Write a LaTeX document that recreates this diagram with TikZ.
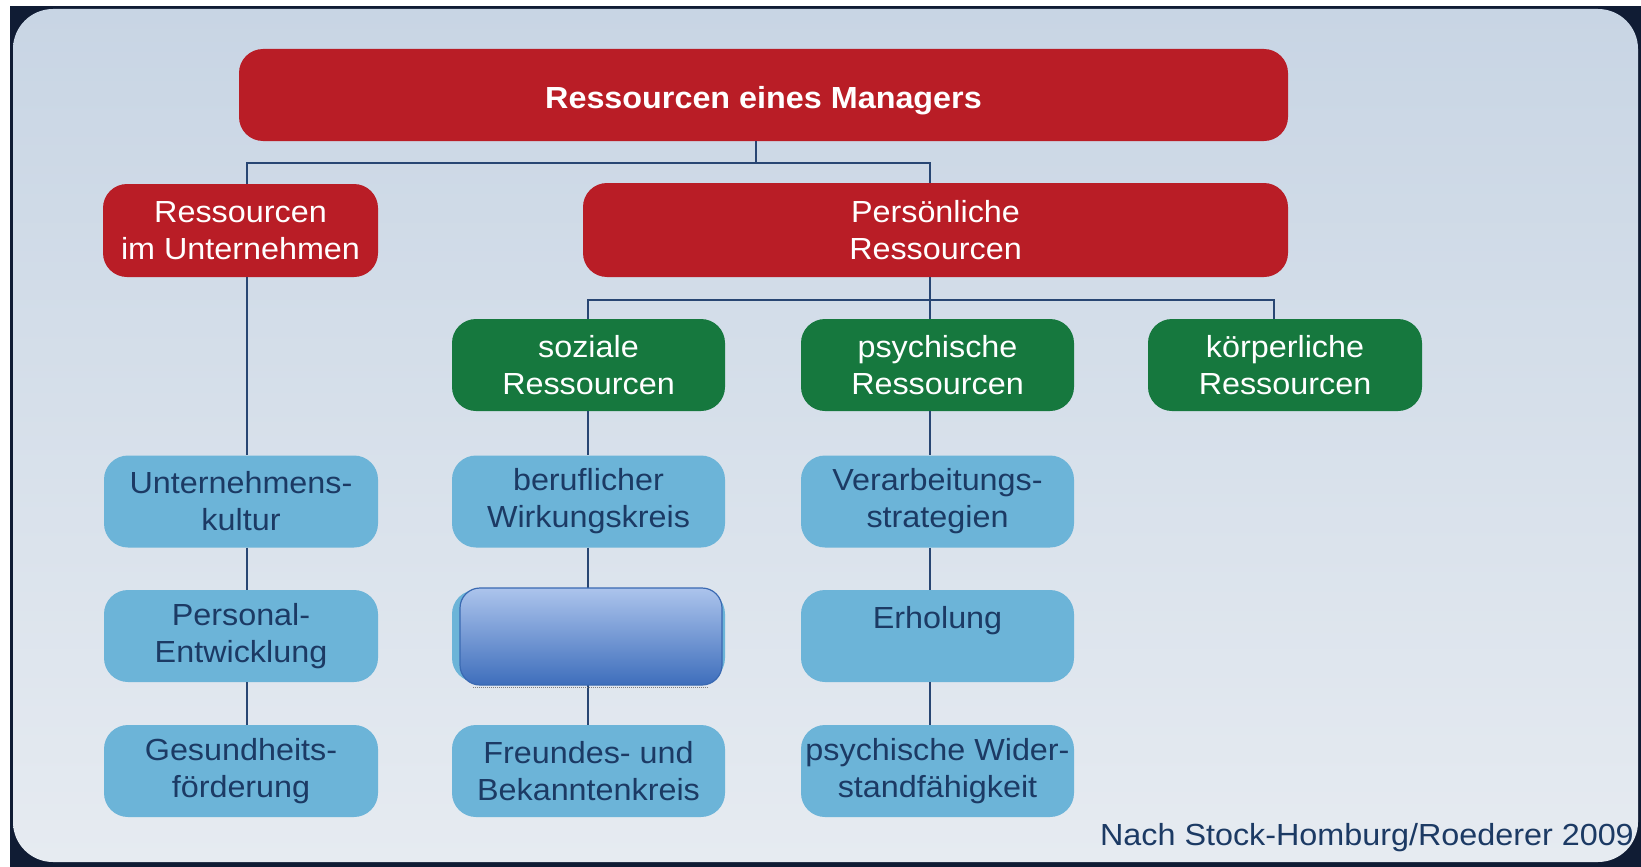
\documentclass[tikz,border=0pt]{standalone}
\usepackage{fontspec}
\setmainfont{Liberation Sans}[FakeStretch=1.06]
\usetikzlibrary{calc}

\definecolor{redbox}{RGB}{185,29,38}
\definecolor{greenbox}{RGB}{22,120,62}
\definecolor{lightbox}{RGB}{108,180,216}
\definecolor{navytext}{RGB}{28,58,100}
\definecolor{linecol}{RGB}{40,70,115}
\definecolor{bgtop}{RGB}{200,213,228}
\definecolor{bgbot}{RGB}{230,235,241}
\definecolor{framecol}{RGB}{16,28,52}
\definecolor{ovltop}{RGB}{172,196,236}
\definecolor{ovlbot}{RGB}{62,110,188}
\definecolor{ovlline}{RGB}{58,105,178}

\begin{document}
\begin{tikzpicture}[x=1pt,y=-1pt,
  box/.style={rounded corners=24pt, minimum height=92pt, align=center, inner sep=0pt,
              font=\fontsize{30.5}{37}\selectfont},
  redn/.style={box, fill=redbox, text=white},
  greenn/.style={box, fill=greenbox, text=white, minimum width=273pt},
  bluen/.style={box, fill=lightbox, text=navytext, minimum width=274pt},
  conn/.style={draw=linecol, line width=2.5pt}]

\useasboundingbox (0,0) rectangle (1641,867);
% frame and background
\fill[white] (0,0) rectangle (1641,867);
\fill[framecol] (10,6) rectangle (1641,867);
\shade[top color=bgtop, bottom color=bgbot, rounded corners=40pt] (13,9) rectangle (1638,862);

% red level
\node[redn, minimum width=1049pt, text height=30pt, text depth=4pt,
      font=\bfseries\fontsize{30.5}{37}\selectfont] (top) at (763.5,95) {Ressourcen eines Managers};
\node[redn, minimum width=275pt, minimum height=93pt] (riu) at (240.5,230.5) {Ressourcen\\im Unternehmen};
\node[redn, minimum width=705pt, minimum height=94pt] (pers) at (935.5,230) {Pers\"onliche\\Ressourcen};

% green level
\node[greenn] (soz) at (588.5,365) {soziale\\Ressourcen};
\node[greenn] (psy) at (937.5,365) {psychische\\Ressourcen};
\node[greenn, minimum width=274pt] (koe) at (1285,365) {k\"orperliche\\Ressourcen};

% light blue level
\node[bluen] (unt) at (241,501.5) {Unternehmens-\\kultur};
\node[bluen] (persent) at (241,636) {Personal-\\Entwicklung};
\node[bluen] (gesund) at (241,771) {Gesundheits-\\f\"orderung};

\node[bluen, minimum width=273pt] (beruf) at (588.5,501.5) {beruflicher\\Wirkungskreis};
\node[bluen, minimum width=273pt] (sozmid) at (588.5,636) {};
\node[bluen, minimum width=273pt] (freunde) at (588.5,771) {Freundes- und\\Bekanntenkreis};

\node[bluen, minimum width=273pt] (verarb) at (937.5,501.5) {Verarbeitungs-\\strategien};
\node[bluen, minimum width=273pt, text height=20pt, text depth=36pt] (erhol) at (937.5,636) {Erholung};
\node[bluen, minimum width=273pt] (wider) at (937.5,771) {psychische Wider-\\standf\"ahigkeit};

% connector column positions
\coordinate (c0) at (756,0);
\coordinate (c1) at (247,0);
\coordinate (c2) at (588,0);
\coordinate (c3) at (930,0);
\coordinate (c4) at (1274,0);
\coordinate (j1) at (756,163);
\coordinate (j2) at (930,300);

% connectors
\draw[conn] (top.south -| c0) -- (j1);
\draw[conn] (riu.north -| c1) |- (j1) -| (pers.north -| c3);
\draw[conn] (pers.south -| c3) -- (j2);
\draw[conn] (soz.north -| c2) |- (j2) -| (koe.north -| c4);
\draw[conn] (j2) -- (psy.north -| c3);

\draw[conn] (riu.south -| c1) -- (unt.north -| c1);
\draw[conn] (unt.south -| c1) -- (persent.north -| c1);
\draw[conn] (persent.south -| c1) -- (gesund.north -| c1);

\draw[conn] (soz.south -| c2) -- (beruf.north -| c2);
\draw[conn] (beruf.south -| c2) -- (sozmid.north -| c2);
\draw[conn] (sozmid.south -| c2) -- (freunde.north -| c2);

\draw[conn] (psy.south -| c3) -- (verarb.north -| c3);
\draw[conn] (verarb.south -| c3) -- (erhol.north -| c3);
\draw[conn] (erhol.south -| c3) -- (wider.north -| c3);

% overlay box
\node[rounded corners=20pt, minimum width=262pt, minimum height=97pt, inner sep=0pt,
      top color=ovltop, bottom color=ovlbot, draw=ovlline, line width=1.2pt] (ovl) at (591,636.5) {};
\draw[gray, densely dotted, line width=1pt] ($(ovl.south west)+(14,1.5)$) -- ($(ovl.south east)+(-14,1.5)$);

% source
\node[anchor=base east, text=navytext, inner sep=0pt, font=\fontsize{30.5}{35}\selectfont] (src) at (1634,845) {Nach Stock-Homburg/Roederer 2009};
\end{tikzpicture}
\end{document}
